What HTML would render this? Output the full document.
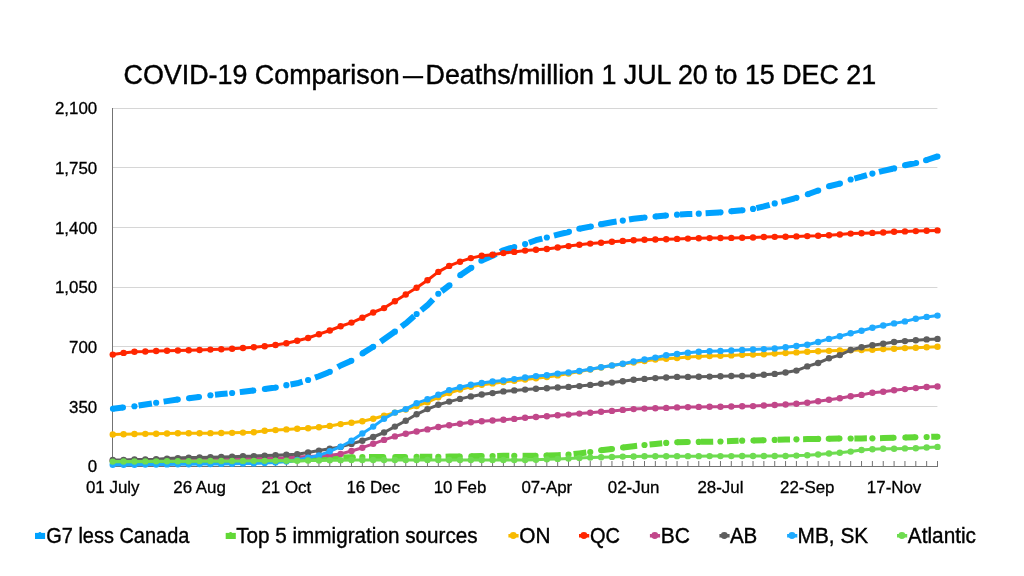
<!DOCTYPE html>
<html lang="en">
<head>
<meta charset="utf-8">
<title>COVID-19 Comparison — Deaths/million 1 JUL 20 to 15 DEC 21</title>
<style>
html,body{margin:0;padding:0;background:#fff;}
body{width:1024px;height:576px;overflow:hidden;position:relative;font-family:"Liberation Sans",sans-serif;}
</style>
</head>
<body>
<svg width="1024" height="576" viewBox="0 0 1024 576" style="position:absolute;left:0;top:0;will-change:transform;-webkit-font-smoothing:antialiased">
<rect width="1024" height="576" fill="#ffffff"/>
<line x1="112" x2="937.4" y1="406.5" y2="406.5" stroke="#d6d6d6" stroke-width="1"/>
<line x1="112" x2="937.4" y1="346.5" y2="346.5" stroke="#d6d6d6" stroke-width="1"/>
<line x1="112" x2="937.4" y1="287.5" y2="287.5" stroke="#d6d6d6" stroke-width="1"/>
<line x1="112" x2="937.4" y1="227.5" y2="227.5" stroke="#d6d6d6" stroke-width="1"/>
<line x1="112" x2="937.4" y1="167.5" y2="167.5" stroke="#d6d6d6" stroke-width="1"/>
<line x1="112" x2="937.4" y1="108.5" y2="108.5" stroke="#d6d6d6" stroke-width="1"/>
<g stroke="#737373" stroke-width="1">
<line x1="112.5" x2="112.5" y1="108.0" y2="467.0"/>
<line x1="112" x2="938.0" y1="466.5" y2="466.5"/>
<line x1="123.60" x2="123.60" y1="461.0" y2="466.5"/>
<line x1="134.45" x2="134.45" y1="461.0" y2="466.5"/>
<line x1="145.31" x2="145.31" y1="461.0" y2="466.5"/>
<line x1="156.16" x2="156.16" y1="461.0" y2="466.5"/>
<line x1="167.01" x2="167.01" y1="461.0" y2="466.5"/>
<line x1="177.86" x2="177.86" y1="461.0" y2="466.5"/>
<line x1="188.71" x2="188.71" y1="461.0" y2="466.5"/>
<line x1="199.57" x2="199.57" y1="461.0" y2="466.5"/>
<line x1="210.42" x2="210.42" y1="461.0" y2="466.5"/>
<line x1="221.27" x2="221.27" y1="461.0" y2="466.5"/>
<line x1="232.12" x2="232.12" y1="461.0" y2="466.5"/>
<line x1="242.97" x2="242.97" y1="461.0" y2="466.5"/>
<line x1="253.83" x2="253.83" y1="461.0" y2="466.5"/>
<line x1="264.68" x2="264.68" y1="461.0" y2="466.5"/>
<line x1="275.53" x2="275.53" y1="461.0" y2="466.5"/>
<line x1="286.38" x2="286.38" y1="461.0" y2="466.5"/>
<line x1="297.23" x2="297.23" y1="461.0" y2="466.5"/>
<line x1="308.09" x2="308.09" y1="461.0" y2="466.5"/>
<line x1="318.94" x2="318.94" y1="461.0" y2="466.5"/>
<line x1="329.79" x2="329.79" y1="461.0" y2="466.5"/>
<line x1="340.64" x2="340.64" y1="461.0" y2="466.5"/>
<line x1="351.49" x2="351.49" y1="461.0" y2="466.5"/>
<line x1="362.35" x2="362.35" y1="461.0" y2="466.5"/>
<line x1="373.20" x2="373.20" y1="461.0" y2="466.5"/>
<line x1="384.05" x2="384.05" y1="461.0" y2="466.5"/>
<line x1="394.90" x2="394.90" y1="461.0" y2="466.5"/>
<line x1="405.75" x2="405.75" y1="461.0" y2="466.5"/>
<line x1="416.61" x2="416.61" y1="461.0" y2="466.5"/>
<line x1="427.46" x2="427.46" y1="461.0" y2="466.5"/>
<line x1="438.31" x2="438.31" y1="461.0" y2="466.5"/>
<line x1="449.16" x2="449.16" y1="461.0" y2="466.5"/>
<line x1="460.01" x2="460.01" y1="461.0" y2="466.5"/>
<line x1="470.87" x2="470.87" y1="461.0" y2="466.5"/>
<line x1="481.72" x2="481.72" y1="461.0" y2="466.5"/>
<line x1="492.57" x2="492.57" y1="461.0" y2="466.5"/>
<line x1="503.42" x2="503.42" y1="461.0" y2="466.5"/>
<line x1="514.27" x2="514.27" y1="461.0" y2="466.5"/>
<line x1="525.12" x2="525.12" y1="461.0" y2="466.5"/>
<line x1="535.98" x2="535.98" y1="461.0" y2="466.5"/>
<line x1="546.83" x2="546.83" y1="461.0" y2="466.5"/>
<line x1="557.68" x2="557.68" y1="461.0" y2="466.5"/>
<line x1="568.53" x2="568.53" y1="461.0" y2="466.5"/>
<line x1="579.38" x2="579.38" y1="461.0" y2="466.5"/>
<line x1="590.24" x2="590.24" y1="461.0" y2="466.5"/>
<line x1="601.09" x2="601.09" y1="461.0" y2="466.5"/>
<line x1="611.94" x2="611.94" y1="461.0" y2="466.5"/>
<line x1="622.79" x2="622.79" y1="461.0" y2="466.5"/>
<line x1="633.64" x2="633.64" y1="461.0" y2="466.5"/>
<line x1="644.50" x2="644.50" y1="461.0" y2="466.5"/>
<line x1="655.35" x2="655.35" y1="461.0" y2="466.5"/>
<line x1="666.20" x2="666.20" y1="461.0" y2="466.5"/>
<line x1="677.05" x2="677.05" y1="461.0" y2="466.5"/>
<line x1="687.90" x2="687.90" y1="461.0" y2="466.5"/>
<line x1="698.76" x2="698.76" y1="461.0" y2="466.5"/>
<line x1="709.61" x2="709.61" y1="461.0" y2="466.5"/>
<line x1="720.46" x2="720.46" y1="461.0" y2="466.5"/>
<line x1="731.31" x2="731.31" y1="461.0" y2="466.5"/>
<line x1="742.16" x2="742.16" y1="461.0" y2="466.5"/>
<line x1="753.02" x2="753.02" y1="461.0" y2="466.5"/>
<line x1="763.87" x2="763.87" y1="461.0" y2="466.5"/>
<line x1="774.72" x2="774.72" y1="461.0" y2="466.5"/>
<line x1="785.57" x2="785.57" y1="461.0" y2="466.5"/>
<line x1="796.42" x2="796.42" y1="461.0" y2="466.5"/>
<line x1="807.28" x2="807.28" y1="461.0" y2="466.5"/>
<line x1="818.13" x2="818.13" y1="461.0" y2="466.5"/>
<line x1="828.98" x2="828.98" y1="461.0" y2="466.5"/>
<line x1="839.83" x2="839.83" y1="461.0" y2="466.5"/>
<line x1="850.68" x2="850.68" y1="461.0" y2="466.5"/>
<line x1="861.54" x2="861.54" y1="461.0" y2="466.5"/>
<line x1="872.39" x2="872.39" y1="461.0" y2="466.5"/>
<line x1="883.24" x2="883.24" y1="461.0" y2="466.5"/>
<line x1="894.09" x2="894.09" y1="461.0" y2="466.5"/>
<line x1="904.94" x2="904.94" y1="461.0" y2="466.5"/>
<line x1="915.80" x2="915.80" y1="461.0" y2="466.5"/>
<line x1="926.65" x2="926.65" y1="461.0" y2="466.5"/>
<line x1="937.50" x2="937.50" y1="461.0" y2="466.5"/>
</g>
<g stroke="#00A2FF" fill="#00A2FF" stroke-width="6.0" stroke-linejoin="round" fill-opacity="1">
<polyline points="112.90,408.73 123.00,407.57" fill="none" stroke-linecap="butt"/>
<circle cx="112.90" cy="408.73" r="3.0" stroke="none"/>
<circle cx="123.00" cy="407.57" r="3.0" stroke="none"/>
<polyline points="138.60,405.58 145.31,404.50 151.90,403.44" fill="none" stroke-linecap="butt"/>
<polyline points="163.60,401.62 167.01,401.10 177.80,399.51" fill="none" stroke-linecap="butt"/>
<circle cx="177.80" cy="399.51" r="3.0" stroke="none"/>
<polyline points="189.00,398.17 199.00,397.06" fill="none" stroke-linecap="butt"/>
<circle cx="189.00" cy="398.17" r="3.0" stroke="none"/>
<circle cx="199.00" cy="397.06" r="3.0" stroke="none"/>
<polyline points="215.00,394.76 221.27,394.10 227.60,393.46" fill="none" stroke-linecap="butt"/>
<polyline points="239.80,392.12 242.97,391.75 253.40,390.55" fill="none" stroke-linecap="butt"/>
<circle cx="253.40" cy="390.55" r="3.0" stroke="none"/>
<polyline points="264.80,388.98 275.53,387.50 275.80,387.44" fill="none" stroke-linecap="butt"/>
<circle cx="264.80" cy="388.98" r="3.0" stroke="none"/>
<circle cx="275.80" cy="387.44" r="3.0" stroke="none"/>
<polyline points="290.50,384.48 297.23,383.30 302.50,381.70" fill="none" stroke-linecap="butt"/>
<polyline points="315.00,377.61 318.94,376.25 328.30,372.41" fill="none" stroke-linecap="butt"/>
<polyline points="337.70,367.21 340.64,365.50 351.40,360.84" fill="none" stroke-linecap="butt"/>
<circle cx="351.40" cy="360.84" r="3.0" stroke="none"/>
<polyline points="362.50,353.40 373.20,346.80 373.25,346.76" fill="none" stroke-linecap="butt"/>
<circle cx="362.50" cy="353.40" r="3.0" stroke="none"/>
<circle cx="373.25" cy="346.76" r="3.0" stroke="none"/>
<polyline points="380.60,341.68 384.05,339.30 394.00,332.33" fill="none" stroke-linecap="butt"/>
<polyline points="401.40,326.73 405.75,323.40 414.20,316.08" fill="none" stroke-linecap="butt"/>
<polyline points="421.25,310.23 427.46,305.20 433.00,299.35" fill="none" stroke-linecap="butt"/>
<polyline points="441.60,291.25 449.16,285.50 449.50,285.18" fill="none" stroke-linecap="butt"/>
<circle cx="449.50" cy="285.18" r="3.0" stroke="none"/>
<polyline points="460.20,275.17 470.87,268.00 471.40,267.63" fill="none" stroke-linecap="butt"/>
<circle cx="460.20" cy="275.17" r="3.0" stroke="none"/>
<circle cx="471.40" cy="267.63" r="3.0" stroke="none"/>
<polyline points="481.30,260.79 481.72,260.50 492.57,255.80 496.25,253.93" fill="none" stroke-linecap="butt"/>
<circle cx="481.30" cy="260.79" r="3.0" stroke="none"/>
<polyline points="500.20,251.93 503.42,250.30 514.27,246.90 514.30,246.89" fill="none" stroke-linecap="butt"/>
<circle cx="514.30" cy="246.89" r="3.0" stroke="none"/>
<polyline points="529.00,242.71 535.98,240.20 542.30,238.63" fill="none" stroke-linecap="butt"/>
<polyline points="554.00,235.65 557.68,234.70 568.53,232.00 569.00,231.86" fill="none" stroke-linecap="butt"/>
<circle cx="569.00" cy="231.86" r="3.0" stroke="none"/>
<polyline points="579.25,228.79 579.38,228.75 590.24,226.60 590.90,226.45" fill="none" stroke-linecap="butt"/>
<circle cx="579.25" cy="228.79" r="3.0" stroke="none"/>
<circle cx="590.90" cy="226.45" r="3.0" stroke="none"/>
<polyline points="602.50,223.94 611.94,222.20 616.60,221.51" fill="none" stroke-linecap="butt"/>
<polyline points="629.00,219.54 633.64,218.75 643.00,217.67" fill="none" stroke-linecap="butt"/>
<polyline points="655.50,216.39 666.00,215.52" fill="none" stroke-linecap="butt"/>
<circle cx="655.50" cy="216.39" r="3.0" stroke="none"/>
<circle cx="666.00" cy="215.52" r="3.0" stroke="none"/>
<polyline points="680.00,214.54 687.90,214.10 692.30,213.94" fill="none" stroke-linecap="butt"/>
<polyline points="705.60,213.32 709.61,213.10 719.00,212.41" fill="none" stroke-linecap="butt"/>
<polyline points="731.30,211.25 731.31,211.25 742.16,210.30 742.50,210.26" fill="none" stroke-linecap="butt"/>
<circle cx="731.30" cy="211.25" r="3.0" stroke="none"/>
<circle cx="742.50" cy="210.26" r="3.0" stroke="none"/>
<polyline points="756.40,208.12 763.87,206.40 769.70,204.79" fill="none" stroke-linecap="butt"/>
<polyline points="781.40,201.86 785.57,200.90 794.70,198.29" fill="none" stroke-linecap="butt"/>
<polyline points="807.80,194.21 818.13,190.50 818.25,190.45" fill="none" stroke-linecap="butt"/>
<circle cx="807.80" cy="194.21" r="3.0" stroke="none"/>
<circle cx="818.25" cy="190.45" r="3.0" stroke="none"/>
<polyline points="829.00,186.25 839.83,183.60 840.00,183.54" fill="none" stroke-linecap="butt"/>
<circle cx="829.00" cy="186.25" r="3.0" stroke="none"/>
<circle cx="840.00" cy="183.54" r="3.0" stroke="none"/>
<polyline points="854.40,178.54 861.54,176.70 866.90,175.17" fill="none" stroke-linecap="butt"/>
<polyline points="879.00,171.95 883.24,170.90 892.60,168.74" fill="none" stroke-linecap="butt"/>
<polyline points="905.00,165.29 915.80,163.00 916.20,162.89" fill="none" stroke-linecap="butt"/>
<circle cx="905.00" cy="165.29" r="3.0" stroke="none"/>
<circle cx="916.20" cy="162.89" r="3.0" stroke="none"/>
<polyline points="926.00,160.18 926.65,160.00 937.50,156.40" fill="none" stroke-linecap="butt"/>
<circle cx="926.00" cy="160.18" r="3.0" stroke="none"/>
<circle cx="937.50" cy="156.40" r="3.0" stroke="none"/>
<circle cx="134.45" cy="406.25" r="3.1" stroke="none"/>
<circle cx="156.16" cy="402.75" r="3.1" stroke="none"/>
<circle cx="210.42" cy="395.25" r="3.1" stroke="none"/>
<circle cx="232.12" cy="393.00" r="3.1" stroke="none"/>
<circle cx="286.38" cy="385.20" r="3.1" stroke="none"/>
<circle cx="308.09" cy="380.00" r="3.1" stroke="none"/>
<circle cx="329.79" cy="371.80" r="3.1" stroke="none"/>
<circle cx="394.90" cy="331.70" r="3.1" stroke="none"/>
<circle cx="416.61" cy="314.00" r="3.1" stroke="none"/>
<circle cx="438.31" cy="293.75" r="3.1" stroke="none"/>
<circle cx="525.12" cy="244.10" r="3.1" stroke="none"/>
<circle cx="546.83" cy="237.50" r="3.1" stroke="none"/>
<circle cx="601.09" cy="224.20" r="3.1" stroke="none"/>
<circle cx="622.79" cy="220.60" r="3.1" stroke="none"/>
<circle cx="644.50" cy="217.50" r="3.1" stroke="none"/>
<circle cx="677.05" cy="214.70" r="3.1" stroke="none"/>
<circle cx="698.76" cy="213.70" r="3.1" stroke="none"/>
<circle cx="720.46" cy="212.30" r="3.1" stroke="none"/>
<circle cx="753.02" cy="208.90" r="3.1" stroke="none"/>
<circle cx="774.72" cy="203.40" r="3.1" stroke="none"/>
<circle cx="796.42" cy="197.80" r="3.1" stroke="none"/>
<circle cx="850.68" cy="179.50" r="3.1" stroke="none"/>
<circle cx="872.39" cy="173.60" r="3.1" stroke="none"/>
<circle cx="894.09" cy="168.40" r="3.1" stroke="none"/>
</g>
<g stroke="#61D836" fill="#61D836" stroke-width="6.0" stroke-linejoin="round" fill-opacity="1">
<polyline points="112.75,463.00 123.60,462.81 134.45,462.62 145.31,462.44 156.16,462.25 167.01,462.06 177.86,461.88 188.71,461.69 199.57,461.50 210.42,461.31 221.27,461.12 232.12,460.94 242.97,460.75 253.83,460.56 264.68,460.38 275.53,460.19 286.38,460.00 297.23,459.50 308.09,459.00 318.94,458.50 329.79,458.00 340.00,457.53" fill="none" stroke-linecap="butt"/>
<polyline points="343.30,457.43 351.49,457.20 352.80,457.19" fill="none" stroke-linecap="butt"/>
<circle cx="352.80" cy="457.19" r="3.0" stroke="none"/>
<polyline points="369.00,457.07 373.20,457.06 383.25,457.02" fill="none" stroke-linecap="butt"/>
<circle cx="383.25" cy="457.02" r="3.0" stroke="none"/>
<polyline points="395.20,456.97 405.10,456.93" fill="none" stroke-linecap="butt"/>
<circle cx="395.20" cy="456.97" r="3.0" stroke="none"/>
<circle cx="405.10" cy="456.93" r="3.0" stroke="none"/>
<polyline points="419.80,456.87 427.46,456.84 432.30,456.82" fill="none" stroke-linecap="butt"/>
<polyline points="445.60,456.67 449.16,456.60 459.80,456.44" fill="none" stroke-linecap="butt"/>
<circle cx="459.80" cy="456.44" r="3.0" stroke="none"/>
<polyline points="471.30,456.26 481.70,456.10" fill="none" stroke-linecap="butt"/>
<circle cx="471.30" cy="456.26" r="3.0" stroke="none"/>
<circle cx="481.70" cy="456.10" r="3.0" stroke="none"/>
<polyline points="497.20,455.91 503.42,455.80 509.30,455.80" fill="none" stroke-linecap="butt"/>
<polyline points="522.60,455.80 525.12,455.80 535.60,455.80" fill="none" stroke-linecap="butt"/>
<circle cx="535.60" cy="455.80" r="3.0" stroke="none"/>
<polyline points="546.40,455.51 546.83,455.50 557.68,455.20 560.80,455.06" fill="none" stroke-linecap="butt"/>
<circle cx="546.40" cy="455.51" r="3.0" stroke="none"/>
<polyline points="573.60,454.09 579.38,453.40 586.30,452.51" fill="none" stroke-linecap="butt"/>
<polyline points="601.10,450.30 611.94,449.00 612.00,448.99" fill="none" stroke-linecap="butt"/>
<circle cx="601.10" cy="450.30" r="3.0" stroke="none"/>
<circle cx="612.00" cy="448.99" r="3.0" stroke="none"/>
<polyline points="623.00,447.48 633.64,446.20 637.10,445.82" fill="none" stroke-linecap="butt"/>
<circle cx="623.00" cy="447.48" r="3.0" stroke="none"/>
<polyline points="649.60,444.48 655.35,443.90 662.20,443.30" fill="none" stroke-linecap="butt"/>
<polyline points="677.20,442.30 687.80,442.10" fill="none" stroke-linecap="butt"/>
<circle cx="677.20" cy="442.30" r="3.0" stroke="none"/>
<circle cx="687.80" cy="442.10" r="3.0" stroke="none"/>
<polyline points="701.00,441.86 709.61,441.70 713.20,441.63" fill="none" stroke-linecap="butt"/>
<polyline points="727.00,441.26 731.31,441.10 738.60,440.83" fill="none" stroke-linecap="butt"/>
<polyline points="753.40,440.49 763.60,440.30" fill="none" stroke-linecap="butt"/>
<circle cx="753.40" cy="440.49" r="3.0" stroke="none"/>
<circle cx="763.60" cy="440.30" r="3.0" stroke="none"/>
<polyline points="777.70,439.79 785.57,439.50 790.00,439.42" fill="none" stroke-linecap="butt"/>
<polyline points="803.10,439.18 807.28,439.10 817.50,438.96" fill="none" stroke-linecap="butt"/>
<circle cx="817.50" cy="438.96" r="3.0" stroke="none"/>
<polyline points="828.70,438.76 828.98,438.75 839.50,438.60" fill="none" stroke-linecap="butt"/>
<circle cx="828.70" cy="438.76" r="3.0" stroke="none"/>
<circle cx="839.50" cy="438.60" r="3.0" stroke="none"/>
<polyline points="854.40,438.47 861.54,438.40 866.90,438.35" fill="none" stroke-linecap="butt"/>
<polyline points="880.00,438.16 883.24,438.10 893.60,437.83" fill="none" stroke-linecap="butt"/>
<circle cx="893.60" cy="437.83" r="3.0" stroke="none"/>
<polyline points="905.30,437.53 915.40,437.27" fill="none" stroke-linecap="butt"/>
<circle cx="905.30" cy="437.53" r="3.0" stroke="none"/>
<circle cx="915.40" cy="437.27" r="3.0" stroke="none"/>
<polyline points="931.25,436.86 937.50,436.70" fill="none" stroke-linecap="butt"/>
<circle cx="937.50" cy="436.70" r="3.0" stroke="none"/>
<circle cx="362.35" cy="457.10" r="3.1" stroke="none"/>
<circle cx="416.61" cy="456.89" r="3.1" stroke="none"/>
<circle cx="438.31" cy="456.80" r="3.1" stroke="none"/>
<circle cx="492.57" cy="456.00" r="3.1" stroke="none"/>
<circle cx="514.27" cy="455.80" r="3.1" stroke="none"/>
<circle cx="568.53" cy="454.70" r="3.1" stroke="none"/>
<circle cx="590.24" cy="452.00" r="3.1" stroke="none"/>
<circle cx="644.50" cy="445.00" r="3.1" stroke="none"/>
<circle cx="666.20" cy="442.95" r="3.1" stroke="none"/>
<circle cx="698.76" cy="441.90" r="3.1" stroke="none"/>
<circle cx="720.46" cy="441.50" r="3.1" stroke="none"/>
<circle cx="742.16" cy="440.70" r="3.1" stroke="none"/>
<circle cx="774.72" cy="439.90" r="3.1" stroke="none"/>
<circle cx="796.42" cy="439.30" r="3.1" stroke="none"/>
<circle cx="818.13" cy="438.95" r="3.1" stroke="none"/>
<circle cx="850.68" cy="438.50" r="3.1" stroke="none"/>
<circle cx="872.39" cy="438.30" r="3.1" stroke="none"/>
<circle cx="926.65" cy="436.98" r="3.1" stroke="none"/>
</g>
<g stroke="#F8BA00" fill="#F8BA00">
<polyline points="112.75,434.50 123.60,434.30 134.45,434.00 145.31,433.85 156.16,433.70 167.01,433.50 177.86,433.30 188.71,433.25 199.57,433.20 210.42,433.15 221.27,433.00 232.12,432.85 242.97,432.60 253.83,432.20 264.68,430.70 275.53,430.10 286.38,429.40 297.23,428.70 308.09,428.30 318.94,427.20 329.79,425.90 340.64,424.10 351.49,422.70 362.35,421.20 373.20,418.80 384.05,415.70 394.90,412.60 405.75,409.60 416.61,406.10 427.46,402.20 438.31,397.30 449.16,393.00 460.01,389.50 470.87,386.80 481.72,384.80 492.57,383.40 503.42,382.10 514.27,380.80 525.12,379.60 535.98,378.30 546.83,377.10 557.68,375.40 568.53,373.60 579.38,371.60 590.24,369.50 601.09,367.50 611.94,365.60 622.79,364.00 633.64,362.50 644.50,361.00 655.35,359.50 666.20,358.80 677.05,358.00 687.90,357.00 698.76,356.50 709.61,356.10 720.46,355.70 731.31,355.40 742.16,354.80 753.02,354.60 763.87,354.20 774.72,353.60 785.57,353.00 796.42,352.40 807.28,351.70 818.13,351.25 828.98,350.85 839.83,350.40 850.68,350.20 861.54,350.00 872.39,349.70 883.24,349.10 894.09,348.75 904.94,348.10 915.80,347.70 926.65,347.20 937.50,346.70" fill="none" stroke-width="3" stroke-linejoin="round" stroke-linecap="round"/>
<circle cx="112.75" cy="434.50" r="3.2" stroke="none"/>
<circle cx="123.60" cy="434.30" r="3.2" stroke="none"/>
<circle cx="134.45" cy="434.00" r="3.2" stroke="none"/>
<circle cx="145.31" cy="433.85" r="3.2" stroke="none"/>
<circle cx="156.16" cy="433.70" r="3.2" stroke="none"/>
<circle cx="167.01" cy="433.50" r="3.2" stroke="none"/>
<circle cx="177.86" cy="433.30" r="3.2" stroke="none"/>
<circle cx="188.71" cy="433.25" r="3.2" stroke="none"/>
<circle cx="199.57" cy="433.20" r="3.2" stroke="none"/>
<circle cx="210.42" cy="433.15" r="3.2" stroke="none"/>
<circle cx="221.27" cy="433.00" r="3.2" stroke="none"/>
<circle cx="232.12" cy="432.85" r="3.2" stroke="none"/>
<circle cx="242.97" cy="432.60" r="3.2" stroke="none"/>
<circle cx="253.83" cy="432.20" r="3.2" stroke="none"/>
<circle cx="264.68" cy="430.70" r="3.2" stroke="none"/>
<circle cx="275.53" cy="430.10" r="3.2" stroke="none"/>
<circle cx="286.38" cy="429.40" r="3.2" stroke="none"/>
<circle cx="297.23" cy="428.70" r="3.2" stroke="none"/>
<circle cx="308.09" cy="428.30" r="3.2" stroke="none"/>
<circle cx="318.94" cy="427.20" r="3.2" stroke="none"/>
<circle cx="329.79" cy="425.90" r="3.2" stroke="none"/>
<circle cx="340.64" cy="424.10" r="3.2" stroke="none"/>
<circle cx="351.49" cy="422.70" r="3.2" stroke="none"/>
<circle cx="362.35" cy="421.20" r="3.2" stroke="none"/>
<circle cx="373.20" cy="418.80" r="3.2" stroke="none"/>
<circle cx="384.05" cy="415.70" r="3.2" stroke="none"/>
<circle cx="394.90" cy="412.60" r="3.2" stroke="none"/>
<circle cx="405.75" cy="409.60" r="3.2" stroke="none"/>
<circle cx="416.61" cy="406.10" r="3.2" stroke="none"/>
<circle cx="427.46" cy="402.20" r="3.2" stroke="none"/>
<circle cx="438.31" cy="397.30" r="3.2" stroke="none"/>
<circle cx="449.16" cy="393.00" r="3.2" stroke="none"/>
<circle cx="460.01" cy="389.50" r="3.2" stroke="none"/>
<circle cx="470.87" cy="386.80" r="3.2" stroke="none"/>
<circle cx="481.72" cy="384.80" r="3.2" stroke="none"/>
<circle cx="492.57" cy="383.40" r="3.2" stroke="none"/>
<circle cx="503.42" cy="382.10" r="3.2" stroke="none"/>
<circle cx="514.27" cy="380.80" r="3.2" stroke="none"/>
<circle cx="525.12" cy="379.60" r="3.2" stroke="none"/>
<circle cx="535.98" cy="378.30" r="3.2" stroke="none"/>
<circle cx="546.83" cy="377.10" r="3.2" stroke="none"/>
<circle cx="557.68" cy="375.40" r="3.2" stroke="none"/>
<circle cx="568.53" cy="373.60" r="3.2" stroke="none"/>
<circle cx="579.38" cy="371.60" r="3.2" stroke="none"/>
<circle cx="590.24" cy="369.50" r="3.2" stroke="none"/>
<circle cx="601.09" cy="367.50" r="3.2" stroke="none"/>
<circle cx="611.94" cy="365.60" r="3.2" stroke="none"/>
<circle cx="622.79" cy="364.00" r="3.2" stroke="none"/>
<circle cx="633.64" cy="362.50" r="3.2" stroke="none"/>
<circle cx="644.50" cy="361.00" r="3.2" stroke="none"/>
<circle cx="655.35" cy="359.50" r="3.2" stroke="none"/>
<circle cx="666.20" cy="358.80" r="3.2" stroke="none"/>
<circle cx="677.05" cy="358.00" r="3.2" stroke="none"/>
<circle cx="687.90" cy="357.00" r="3.2" stroke="none"/>
<circle cx="698.76" cy="356.50" r="3.2" stroke="none"/>
<circle cx="709.61" cy="356.10" r="3.2" stroke="none"/>
<circle cx="720.46" cy="355.70" r="3.2" stroke="none"/>
<circle cx="731.31" cy="355.40" r="3.2" stroke="none"/>
<circle cx="742.16" cy="354.80" r="3.2" stroke="none"/>
<circle cx="753.02" cy="354.60" r="3.2" stroke="none"/>
<circle cx="763.87" cy="354.20" r="3.2" stroke="none"/>
<circle cx="774.72" cy="353.60" r="3.2" stroke="none"/>
<circle cx="785.57" cy="353.00" r="3.2" stroke="none"/>
<circle cx="796.42" cy="352.40" r="3.2" stroke="none"/>
<circle cx="807.28" cy="351.70" r="3.2" stroke="none"/>
<circle cx="818.13" cy="351.25" r="3.2" stroke="none"/>
<circle cx="828.98" cy="350.85" r="3.2" stroke="none"/>
<circle cx="839.83" cy="350.40" r="3.2" stroke="none"/>
<circle cx="850.68" cy="350.20" r="3.2" stroke="none"/>
<circle cx="861.54" cy="350.00" r="3.2" stroke="none"/>
<circle cx="872.39" cy="349.70" r="3.2" stroke="none"/>
<circle cx="883.24" cy="349.10" r="3.2" stroke="none"/>
<circle cx="894.09" cy="348.75" r="3.2" stroke="none"/>
<circle cx="904.94" cy="348.10" r="3.2" stroke="none"/>
<circle cx="915.80" cy="347.70" r="3.2" stroke="none"/>
<circle cx="926.65" cy="347.20" r="3.2" stroke="none"/>
<circle cx="937.50" cy="346.70" r="3.2" stroke="none"/>
</g>
<g stroke="#FF2600" fill="#FF2600">
<polyline points="112.75,354.60 123.60,352.90 134.45,351.75 145.31,351.50 156.16,351.00 167.01,350.75 177.86,350.50 188.71,350.25 199.57,350.00 210.42,349.60 221.27,349.25 232.12,348.70 242.97,348.00 253.83,347.25 264.68,346.25 275.53,345.00 286.38,343.25 297.23,340.80 308.09,338.00 318.94,334.20 329.79,330.50 340.64,326.25 351.49,322.60 362.35,317.70 373.20,312.50 384.05,308.10 394.90,301.30 405.75,294.50 416.61,287.80 427.46,280.30 438.31,271.90 449.16,265.90 460.01,261.70 470.87,258.10 481.72,255.80 492.57,254.70 503.42,253.10 514.27,251.90 525.12,250.60 535.98,249.80 546.83,249.00 557.68,247.50 568.53,246.10 579.38,244.80 590.24,243.60 601.09,242.80 611.94,241.70 622.79,240.90 633.64,240.30 644.50,239.80 655.35,239.50 666.20,239.20 677.05,238.90 687.90,238.60 698.76,238.30 709.61,238.10 720.46,238.00 731.31,237.90 742.16,237.80 753.02,237.50 763.87,237.00 774.72,236.85 785.57,236.70 796.42,236.40 807.28,236.10 818.13,235.80 828.98,235.20 839.83,234.50 850.68,233.60 861.54,233.20 872.39,232.90 883.24,232.50 894.09,231.80 904.94,231.40 915.80,231.10 926.65,230.70 937.50,230.40" fill="none" stroke-width="3" stroke-linejoin="round" stroke-linecap="round"/>
<circle cx="112.75" cy="354.60" r="3.2" stroke="none"/>
<circle cx="123.60" cy="352.90" r="3.2" stroke="none"/>
<circle cx="134.45" cy="351.75" r="3.2" stroke="none"/>
<circle cx="145.31" cy="351.50" r="3.2" stroke="none"/>
<circle cx="156.16" cy="351.00" r="3.2" stroke="none"/>
<circle cx="167.01" cy="350.75" r="3.2" stroke="none"/>
<circle cx="177.86" cy="350.50" r="3.2" stroke="none"/>
<circle cx="188.71" cy="350.25" r="3.2" stroke="none"/>
<circle cx="199.57" cy="350.00" r="3.2" stroke="none"/>
<circle cx="210.42" cy="349.60" r="3.2" stroke="none"/>
<circle cx="221.27" cy="349.25" r="3.2" stroke="none"/>
<circle cx="232.12" cy="348.70" r="3.2" stroke="none"/>
<circle cx="242.97" cy="348.00" r="3.2" stroke="none"/>
<circle cx="253.83" cy="347.25" r="3.2" stroke="none"/>
<circle cx="264.68" cy="346.25" r="3.2" stroke="none"/>
<circle cx="275.53" cy="345.00" r="3.2" stroke="none"/>
<circle cx="286.38" cy="343.25" r="3.2" stroke="none"/>
<circle cx="297.23" cy="340.80" r="3.2" stroke="none"/>
<circle cx="308.09" cy="338.00" r="3.2" stroke="none"/>
<circle cx="318.94" cy="334.20" r="3.2" stroke="none"/>
<circle cx="329.79" cy="330.50" r="3.2" stroke="none"/>
<circle cx="340.64" cy="326.25" r="3.2" stroke="none"/>
<circle cx="351.49" cy="322.60" r="3.2" stroke="none"/>
<circle cx="362.35" cy="317.70" r="3.2" stroke="none"/>
<circle cx="373.20" cy="312.50" r="3.2" stroke="none"/>
<circle cx="384.05" cy="308.10" r="3.2" stroke="none"/>
<circle cx="394.90" cy="301.30" r="3.2" stroke="none"/>
<circle cx="405.75" cy="294.50" r="3.2" stroke="none"/>
<circle cx="416.61" cy="287.80" r="3.2" stroke="none"/>
<circle cx="427.46" cy="280.30" r="3.2" stroke="none"/>
<circle cx="438.31" cy="271.90" r="3.2" stroke="none"/>
<circle cx="449.16" cy="265.90" r="3.2" stroke="none"/>
<circle cx="460.01" cy="261.70" r="3.2" stroke="none"/>
<circle cx="470.87" cy="258.10" r="3.2" stroke="none"/>
<circle cx="481.72" cy="255.80" r="3.2" stroke="none"/>
<circle cx="492.57" cy="254.70" r="3.2" stroke="none"/>
<circle cx="503.42" cy="253.10" r="3.2" stroke="none"/>
<circle cx="514.27" cy="251.90" r="3.2" stroke="none"/>
<circle cx="525.12" cy="250.60" r="3.2" stroke="none"/>
<circle cx="535.98" cy="249.80" r="3.2" stroke="none"/>
<circle cx="546.83" cy="249.00" r="3.2" stroke="none"/>
<circle cx="557.68" cy="247.50" r="3.2" stroke="none"/>
<circle cx="568.53" cy="246.10" r="3.2" stroke="none"/>
<circle cx="579.38" cy="244.80" r="3.2" stroke="none"/>
<circle cx="590.24" cy="243.60" r="3.2" stroke="none"/>
<circle cx="601.09" cy="242.80" r="3.2" stroke="none"/>
<circle cx="611.94" cy="241.70" r="3.2" stroke="none"/>
<circle cx="622.79" cy="240.90" r="3.2" stroke="none"/>
<circle cx="633.64" cy="240.30" r="3.2" stroke="none"/>
<circle cx="644.50" cy="239.80" r="3.2" stroke="none"/>
<circle cx="655.35" cy="239.50" r="3.2" stroke="none"/>
<circle cx="666.20" cy="239.20" r="3.2" stroke="none"/>
<circle cx="677.05" cy="238.90" r="3.2" stroke="none"/>
<circle cx="687.90" cy="238.60" r="3.2" stroke="none"/>
<circle cx="698.76" cy="238.30" r="3.2" stroke="none"/>
<circle cx="709.61" cy="238.10" r="3.2" stroke="none"/>
<circle cx="720.46" cy="238.00" r="3.2" stroke="none"/>
<circle cx="731.31" cy="237.90" r="3.2" stroke="none"/>
<circle cx="742.16" cy="237.80" r="3.2" stroke="none"/>
<circle cx="753.02" cy="237.50" r="3.2" stroke="none"/>
<circle cx="763.87" cy="237.00" r="3.2" stroke="none"/>
<circle cx="774.72" cy="236.85" r="3.2" stroke="none"/>
<circle cx="785.57" cy="236.70" r="3.2" stroke="none"/>
<circle cx="796.42" cy="236.40" r="3.2" stroke="none"/>
<circle cx="807.28" cy="236.10" r="3.2" stroke="none"/>
<circle cx="818.13" cy="235.80" r="3.2" stroke="none"/>
<circle cx="828.98" cy="235.20" r="3.2" stroke="none"/>
<circle cx="839.83" cy="234.50" r="3.2" stroke="none"/>
<circle cx="850.68" cy="233.60" r="3.2" stroke="none"/>
<circle cx="861.54" cy="233.20" r="3.2" stroke="none"/>
<circle cx="872.39" cy="232.90" r="3.2" stroke="none"/>
<circle cx="883.24" cy="232.50" r="3.2" stroke="none"/>
<circle cx="894.09" cy="231.80" r="3.2" stroke="none"/>
<circle cx="904.94" cy="231.40" r="3.2" stroke="none"/>
<circle cx="915.80" cy="231.10" r="3.2" stroke="none"/>
<circle cx="926.65" cy="230.70" r="3.2" stroke="none"/>
<circle cx="937.50" cy="230.40" r="3.2" stroke="none"/>
</g>
<g stroke="#C1478A" fill="#C1478A">
<polyline points="112.75,460.70 123.60,460.60 134.45,460.40 145.31,460.20 156.16,460.00 167.01,459.70 177.86,459.40 188.71,459.00 199.57,458.75 210.42,458.70 221.27,458.60 232.12,458.50 242.97,458.40 253.83,458.25 264.68,458.10 275.53,457.90 286.38,457.70 297.23,457.10 308.09,456.60 318.94,456.00 329.79,455.30 340.64,453.90 351.49,451.00 362.35,447.70 373.20,443.80 384.05,439.90 394.90,436.40 405.75,433.70 416.61,431.50 427.46,429.40 438.31,427.00 449.16,425.30 460.01,423.70 470.87,422.30 481.72,421.20 492.57,420.50 503.42,419.70 514.27,418.90 525.12,417.70 535.98,417.00 546.83,416.20 557.68,415.20 568.53,414.60 579.38,413.60 590.24,412.70 601.09,411.70 611.94,410.90 622.79,409.90 633.64,409.10 644.50,408.60 655.35,408.30 666.20,407.90 677.05,407.40 687.90,407.10 698.76,406.90 709.61,406.80 720.46,406.70 731.31,406.50 742.16,406.30 753.02,406.10 763.87,405.50 774.72,405.00 785.57,404.50 796.42,403.70 807.28,402.80 818.13,401.30 828.98,399.80 839.83,398.20 850.68,396.20 861.54,394.90 872.39,392.80 883.24,391.70 894.09,390.30 904.94,389.10 915.80,388.10 926.65,387.00 937.50,386.50" fill="none" stroke-width="3" stroke-linejoin="round" stroke-linecap="round"/>
<circle cx="112.75" cy="460.70" r="3.2" stroke="none"/>
<circle cx="123.60" cy="460.60" r="3.2" stroke="none"/>
<circle cx="134.45" cy="460.40" r="3.2" stroke="none"/>
<circle cx="145.31" cy="460.20" r="3.2" stroke="none"/>
<circle cx="156.16" cy="460.00" r="3.2" stroke="none"/>
<circle cx="167.01" cy="459.70" r="3.2" stroke="none"/>
<circle cx="177.86" cy="459.40" r="3.2" stroke="none"/>
<circle cx="188.71" cy="459.00" r="3.2" stroke="none"/>
<circle cx="199.57" cy="458.75" r="3.2" stroke="none"/>
<circle cx="210.42" cy="458.70" r="3.2" stroke="none"/>
<circle cx="221.27" cy="458.60" r="3.2" stroke="none"/>
<circle cx="232.12" cy="458.50" r="3.2" stroke="none"/>
<circle cx="242.97" cy="458.40" r="3.2" stroke="none"/>
<circle cx="253.83" cy="458.25" r="3.2" stroke="none"/>
<circle cx="264.68" cy="458.10" r="3.2" stroke="none"/>
<circle cx="275.53" cy="457.90" r="3.2" stroke="none"/>
<circle cx="286.38" cy="457.70" r="3.2" stroke="none"/>
<circle cx="297.23" cy="457.10" r="3.2" stroke="none"/>
<circle cx="308.09" cy="456.60" r="3.2" stroke="none"/>
<circle cx="318.94" cy="456.00" r="3.2" stroke="none"/>
<circle cx="329.79" cy="455.30" r="3.2" stroke="none"/>
<circle cx="340.64" cy="453.90" r="3.2" stroke="none"/>
<circle cx="351.49" cy="451.00" r="3.2" stroke="none"/>
<circle cx="362.35" cy="447.70" r="3.2" stroke="none"/>
<circle cx="373.20" cy="443.80" r="3.2" stroke="none"/>
<circle cx="384.05" cy="439.90" r="3.2" stroke="none"/>
<circle cx="394.90" cy="436.40" r="3.2" stroke="none"/>
<circle cx="405.75" cy="433.70" r="3.2" stroke="none"/>
<circle cx="416.61" cy="431.50" r="3.2" stroke="none"/>
<circle cx="427.46" cy="429.40" r="3.2" stroke="none"/>
<circle cx="438.31" cy="427.00" r="3.2" stroke="none"/>
<circle cx="449.16" cy="425.30" r="3.2" stroke="none"/>
<circle cx="460.01" cy="423.70" r="3.2" stroke="none"/>
<circle cx="470.87" cy="422.30" r="3.2" stroke="none"/>
<circle cx="481.72" cy="421.20" r="3.2" stroke="none"/>
<circle cx="492.57" cy="420.50" r="3.2" stroke="none"/>
<circle cx="503.42" cy="419.70" r="3.2" stroke="none"/>
<circle cx="514.27" cy="418.90" r="3.2" stroke="none"/>
<circle cx="525.12" cy="417.70" r="3.2" stroke="none"/>
<circle cx="535.98" cy="417.00" r="3.2" stroke="none"/>
<circle cx="546.83" cy="416.20" r="3.2" stroke="none"/>
<circle cx="557.68" cy="415.20" r="3.2" stroke="none"/>
<circle cx="568.53" cy="414.60" r="3.2" stroke="none"/>
<circle cx="579.38" cy="413.60" r="3.2" stroke="none"/>
<circle cx="590.24" cy="412.70" r="3.2" stroke="none"/>
<circle cx="601.09" cy="411.70" r="3.2" stroke="none"/>
<circle cx="611.94" cy="410.90" r="3.2" stroke="none"/>
<circle cx="622.79" cy="409.90" r="3.2" stroke="none"/>
<circle cx="633.64" cy="409.10" r="3.2" stroke="none"/>
<circle cx="644.50" cy="408.60" r="3.2" stroke="none"/>
<circle cx="655.35" cy="408.30" r="3.2" stroke="none"/>
<circle cx="666.20" cy="407.90" r="3.2" stroke="none"/>
<circle cx="677.05" cy="407.40" r="3.2" stroke="none"/>
<circle cx="687.90" cy="407.10" r="3.2" stroke="none"/>
<circle cx="698.76" cy="406.90" r="3.2" stroke="none"/>
<circle cx="709.61" cy="406.80" r="3.2" stroke="none"/>
<circle cx="720.46" cy="406.70" r="3.2" stroke="none"/>
<circle cx="731.31" cy="406.50" r="3.2" stroke="none"/>
<circle cx="742.16" cy="406.30" r="3.2" stroke="none"/>
<circle cx="753.02" cy="406.10" r="3.2" stroke="none"/>
<circle cx="763.87" cy="405.50" r="3.2" stroke="none"/>
<circle cx="774.72" cy="405.00" r="3.2" stroke="none"/>
<circle cx="785.57" cy="404.50" r="3.2" stroke="none"/>
<circle cx="796.42" cy="403.70" r="3.2" stroke="none"/>
<circle cx="807.28" cy="402.80" r="3.2" stroke="none"/>
<circle cx="818.13" cy="401.30" r="3.2" stroke="none"/>
<circle cx="828.98" cy="399.80" r="3.2" stroke="none"/>
<circle cx="839.83" cy="398.20" r="3.2" stroke="none"/>
<circle cx="850.68" cy="396.20" r="3.2" stroke="none"/>
<circle cx="861.54" cy="394.90" r="3.2" stroke="none"/>
<circle cx="872.39" cy="392.80" r="3.2" stroke="none"/>
<circle cx="883.24" cy="391.70" r="3.2" stroke="none"/>
<circle cx="894.09" cy="390.30" r="3.2" stroke="none"/>
<circle cx="904.94" cy="389.10" r="3.2" stroke="none"/>
<circle cx="915.80" cy="388.10" r="3.2" stroke="none"/>
<circle cx="926.65" cy="387.00" r="3.2" stroke="none"/>
<circle cx="937.50" cy="386.50" r="3.2" stroke="none"/>
</g>
<g stroke="#5E5E5E" fill="#5E5E5E">
<polyline points="112.75,459.90 123.60,460.00 134.45,459.40 145.31,459.40 156.16,459.20 167.01,458.60 177.86,458.10 188.71,457.60 199.57,457.40 210.42,457.20 221.27,456.90 232.12,456.70 242.97,456.30 253.83,456.10 264.68,455.60 275.53,455.20 286.38,454.80 297.23,454.20 308.09,452.40 318.94,450.60 329.79,448.70 340.64,446.90 351.49,443.90 362.35,440.70 373.20,437.00 384.05,432.50 394.90,426.60 405.75,420.80 416.61,414.30 427.46,409.10 438.31,404.80 449.16,401.60 460.01,398.90 470.87,396.40 481.72,394.50 492.57,393.10 503.42,391.40 514.27,390.40 525.12,389.60 535.98,388.80 546.83,388.20 557.68,387.50 568.53,386.90 579.38,386.10 590.24,384.90 601.09,383.75 611.94,382.60 622.79,381.20 633.64,379.80 644.50,378.90 655.35,378.10 666.20,377.50 677.05,376.90 687.90,376.90 698.76,376.80 709.61,376.60 720.46,376.25 731.31,376.05 742.16,376.00 753.02,375.80 763.87,374.70 774.72,373.90 785.57,372.50 796.42,370.60 807.28,366.40 818.13,363.00 828.98,358.30 839.83,355.10 850.68,350.00 861.54,347.30 872.39,345.30 883.24,343.75 894.09,341.90 904.94,341.10 915.80,340.20 926.65,339.40 937.50,338.90" fill="none" stroke-width="3" stroke-linejoin="round" stroke-linecap="round"/>
<circle cx="112.75" cy="459.90" r="3.2" stroke="none"/>
<circle cx="123.60" cy="460.00" r="3.2" stroke="none"/>
<circle cx="134.45" cy="459.40" r="3.2" stroke="none"/>
<circle cx="145.31" cy="459.40" r="3.2" stroke="none"/>
<circle cx="156.16" cy="459.20" r="3.2" stroke="none"/>
<circle cx="167.01" cy="458.60" r="3.2" stroke="none"/>
<circle cx="177.86" cy="458.10" r="3.2" stroke="none"/>
<circle cx="188.71" cy="457.60" r="3.2" stroke="none"/>
<circle cx="199.57" cy="457.40" r="3.2" stroke="none"/>
<circle cx="210.42" cy="457.20" r="3.2" stroke="none"/>
<circle cx="221.27" cy="456.90" r="3.2" stroke="none"/>
<circle cx="232.12" cy="456.70" r="3.2" stroke="none"/>
<circle cx="242.97" cy="456.30" r="3.2" stroke="none"/>
<circle cx="253.83" cy="456.10" r="3.2" stroke="none"/>
<circle cx="264.68" cy="455.60" r="3.2" stroke="none"/>
<circle cx="275.53" cy="455.20" r="3.2" stroke="none"/>
<circle cx="286.38" cy="454.80" r="3.2" stroke="none"/>
<circle cx="297.23" cy="454.20" r="3.2" stroke="none"/>
<circle cx="308.09" cy="452.40" r="3.2" stroke="none"/>
<circle cx="318.94" cy="450.60" r="3.2" stroke="none"/>
<circle cx="329.79" cy="448.70" r="3.2" stroke="none"/>
<circle cx="340.64" cy="446.90" r="3.2" stroke="none"/>
<circle cx="351.49" cy="443.90" r="3.2" stroke="none"/>
<circle cx="362.35" cy="440.70" r="3.2" stroke="none"/>
<circle cx="373.20" cy="437.00" r="3.2" stroke="none"/>
<circle cx="384.05" cy="432.50" r="3.2" stroke="none"/>
<circle cx="394.90" cy="426.60" r="3.2" stroke="none"/>
<circle cx="405.75" cy="420.80" r="3.2" stroke="none"/>
<circle cx="416.61" cy="414.30" r="3.2" stroke="none"/>
<circle cx="427.46" cy="409.10" r="3.2" stroke="none"/>
<circle cx="438.31" cy="404.80" r="3.2" stroke="none"/>
<circle cx="449.16" cy="401.60" r="3.2" stroke="none"/>
<circle cx="460.01" cy="398.90" r="3.2" stroke="none"/>
<circle cx="470.87" cy="396.40" r="3.2" stroke="none"/>
<circle cx="481.72" cy="394.50" r="3.2" stroke="none"/>
<circle cx="492.57" cy="393.10" r="3.2" stroke="none"/>
<circle cx="503.42" cy="391.40" r="3.2" stroke="none"/>
<circle cx="514.27" cy="390.40" r="3.2" stroke="none"/>
<circle cx="525.12" cy="389.60" r="3.2" stroke="none"/>
<circle cx="535.98" cy="388.80" r="3.2" stroke="none"/>
<circle cx="546.83" cy="388.20" r="3.2" stroke="none"/>
<circle cx="557.68" cy="387.50" r="3.2" stroke="none"/>
<circle cx="568.53" cy="386.90" r="3.2" stroke="none"/>
<circle cx="579.38" cy="386.10" r="3.2" stroke="none"/>
<circle cx="590.24" cy="384.90" r="3.2" stroke="none"/>
<circle cx="601.09" cy="383.75" r="3.2" stroke="none"/>
<circle cx="611.94" cy="382.60" r="3.2" stroke="none"/>
<circle cx="622.79" cy="381.20" r="3.2" stroke="none"/>
<circle cx="633.64" cy="379.80" r="3.2" stroke="none"/>
<circle cx="644.50" cy="378.90" r="3.2" stroke="none"/>
<circle cx="655.35" cy="378.10" r="3.2" stroke="none"/>
<circle cx="666.20" cy="377.50" r="3.2" stroke="none"/>
<circle cx="677.05" cy="376.90" r="3.2" stroke="none"/>
<circle cx="687.90" cy="376.90" r="3.2" stroke="none"/>
<circle cx="698.76" cy="376.80" r="3.2" stroke="none"/>
<circle cx="709.61" cy="376.60" r="3.2" stroke="none"/>
<circle cx="720.46" cy="376.25" r="3.2" stroke="none"/>
<circle cx="731.31" cy="376.05" r="3.2" stroke="none"/>
<circle cx="742.16" cy="376.00" r="3.2" stroke="none"/>
<circle cx="753.02" cy="375.80" r="3.2" stroke="none"/>
<circle cx="763.87" cy="374.70" r="3.2" stroke="none"/>
<circle cx="774.72" cy="373.90" r="3.2" stroke="none"/>
<circle cx="785.57" cy="372.50" r="3.2" stroke="none"/>
<circle cx="796.42" cy="370.60" r="3.2" stroke="none"/>
<circle cx="807.28" cy="366.40" r="3.2" stroke="none"/>
<circle cx="818.13" cy="363.00" r="3.2" stroke="none"/>
<circle cx="828.98" cy="358.30" r="3.2" stroke="none"/>
<circle cx="839.83" cy="355.10" r="3.2" stroke="none"/>
<circle cx="850.68" cy="350.00" r="3.2" stroke="none"/>
<circle cx="861.54" cy="347.30" r="3.2" stroke="none"/>
<circle cx="872.39" cy="345.30" r="3.2" stroke="none"/>
<circle cx="883.24" cy="343.75" r="3.2" stroke="none"/>
<circle cx="894.09" cy="341.90" r="3.2" stroke="none"/>
<circle cx="904.94" cy="341.10" r="3.2" stroke="none"/>
<circle cx="915.80" cy="340.20" r="3.2" stroke="none"/>
<circle cx="926.65" cy="339.40" r="3.2" stroke="none"/>
<circle cx="937.50" cy="338.90" r="3.2" stroke="none"/>
</g>
<g stroke="#1EAAFF" fill="#1EAAFF">
<polyline points="112.75,464.80 123.60,464.70 134.45,464.70 145.31,464.60 156.16,464.50 167.01,464.40 177.86,464.30 188.71,464.20 199.57,464.10 210.42,464.00 221.27,463.90 232.12,463.75 242.97,463.60 253.83,463.40 264.68,463.10 275.53,462.60 286.38,461.60 297.23,460.00 308.09,457.70 318.94,455.40 329.79,451.30 340.64,446.70 351.49,440.80 362.35,433.50 373.20,426.60 384.05,418.80 394.90,412.60 405.75,409.10 416.61,403.20 427.46,399.30 438.31,394.80 449.16,390.10 460.01,387.20 470.87,384.80 481.72,383.05 492.57,381.40 503.42,380.40 514.27,379.10 525.12,377.50 535.98,376.10 546.83,375.20 557.68,373.60 568.53,372.40 579.38,370.90 590.24,369.30 601.09,367.30 611.94,365.40 622.79,363.80 633.64,361.50 644.50,359.50 655.35,357.60 666.20,355.30 677.05,353.95 687.90,352.80 698.76,351.80 709.61,351.25 720.46,350.90 731.31,350.50 742.16,349.90 753.02,349.50 763.87,349.10 774.72,348.50 785.57,347.30 796.42,346.00 807.28,344.70 818.13,342.00 828.98,338.90 839.83,336.20 850.68,333.20 861.54,330.75 872.39,327.80 883.24,325.50 894.09,323.40 904.94,321.40 915.80,318.75 926.65,316.90 937.50,315.60" fill="none" stroke-width="3" stroke-linejoin="round" stroke-linecap="round"/>
<circle cx="112.75" cy="464.80" r="3.2" stroke="none"/>
<circle cx="123.60" cy="464.70" r="3.2" stroke="none"/>
<circle cx="134.45" cy="464.70" r="3.2" stroke="none"/>
<circle cx="145.31" cy="464.60" r="3.2" stroke="none"/>
<circle cx="156.16" cy="464.50" r="3.2" stroke="none"/>
<circle cx="167.01" cy="464.40" r="3.2" stroke="none"/>
<circle cx="177.86" cy="464.30" r="3.2" stroke="none"/>
<circle cx="188.71" cy="464.20" r="3.2" stroke="none"/>
<circle cx="199.57" cy="464.10" r="3.2" stroke="none"/>
<circle cx="210.42" cy="464.00" r="3.2" stroke="none"/>
<circle cx="221.27" cy="463.90" r="3.2" stroke="none"/>
<circle cx="232.12" cy="463.75" r="3.2" stroke="none"/>
<circle cx="242.97" cy="463.60" r="3.2" stroke="none"/>
<circle cx="253.83" cy="463.40" r="3.2" stroke="none"/>
<circle cx="264.68" cy="463.10" r="3.2" stroke="none"/>
<circle cx="275.53" cy="462.60" r="3.2" stroke="none"/>
<circle cx="286.38" cy="461.60" r="3.2" stroke="none"/>
<circle cx="297.23" cy="460.00" r="3.2" stroke="none"/>
<circle cx="308.09" cy="457.70" r="3.2" stroke="none"/>
<circle cx="318.94" cy="455.40" r="3.2" stroke="none"/>
<circle cx="329.79" cy="451.30" r="3.2" stroke="none"/>
<circle cx="340.64" cy="446.70" r="3.2" stroke="none"/>
<circle cx="351.49" cy="440.80" r="3.2" stroke="none"/>
<circle cx="362.35" cy="433.50" r="3.2" stroke="none"/>
<circle cx="373.20" cy="426.60" r="3.2" stroke="none"/>
<circle cx="384.05" cy="418.80" r="3.2" stroke="none"/>
<circle cx="394.90" cy="412.60" r="3.2" stroke="none"/>
<circle cx="405.75" cy="409.10" r="3.2" stroke="none"/>
<circle cx="416.61" cy="403.20" r="3.2" stroke="none"/>
<circle cx="427.46" cy="399.30" r="3.2" stroke="none"/>
<circle cx="438.31" cy="394.80" r="3.2" stroke="none"/>
<circle cx="449.16" cy="390.10" r="3.2" stroke="none"/>
<circle cx="460.01" cy="387.20" r="3.2" stroke="none"/>
<circle cx="470.87" cy="384.80" r="3.2" stroke="none"/>
<circle cx="481.72" cy="383.05" r="3.2" stroke="none"/>
<circle cx="492.57" cy="381.40" r="3.2" stroke="none"/>
<circle cx="503.42" cy="380.40" r="3.2" stroke="none"/>
<circle cx="514.27" cy="379.10" r="3.2" stroke="none"/>
<circle cx="525.12" cy="377.50" r="3.2" stroke="none"/>
<circle cx="535.98" cy="376.10" r="3.2" stroke="none"/>
<circle cx="546.83" cy="375.20" r="3.2" stroke="none"/>
<circle cx="557.68" cy="373.60" r="3.2" stroke="none"/>
<circle cx="568.53" cy="372.40" r="3.2" stroke="none"/>
<circle cx="579.38" cy="370.90" r="3.2" stroke="none"/>
<circle cx="590.24" cy="369.30" r="3.2" stroke="none"/>
<circle cx="601.09" cy="367.30" r="3.2" stroke="none"/>
<circle cx="611.94" cy="365.40" r="3.2" stroke="none"/>
<circle cx="622.79" cy="363.80" r="3.2" stroke="none"/>
<circle cx="633.64" cy="361.50" r="3.2" stroke="none"/>
<circle cx="644.50" cy="359.50" r="3.2" stroke="none"/>
<circle cx="655.35" cy="357.60" r="3.2" stroke="none"/>
<circle cx="666.20" cy="355.30" r="3.2" stroke="none"/>
<circle cx="677.05" cy="353.95" r="3.2" stroke="none"/>
<circle cx="687.90" cy="352.80" r="3.2" stroke="none"/>
<circle cx="698.76" cy="351.80" r="3.2" stroke="none"/>
<circle cx="709.61" cy="351.25" r="3.2" stroke="none"/>
<circle cx="720.46" cy="350.90" r="3.2" stroke="none"/>
<circle cx="731.31" cy="350.50" r="3.2" stroke="none"/>
<circle cx="742.16" cy="349.90" r="3.2" stroke="none"/>
<circle cx="753.02" cy="349.50" r="3.2" stroke="none"/>
<circle cx="763.87" cy="349.10" r="3.2" stroke="none"/>
<circle cx="774.72" cy="348.50" r="3.2" stroke="none"/>
<circle cx="785.57" cy="347.30" r="3.2" stroke="none"/>
<circle cx="796.42" cy="346.00" r="3.2" stroke="none"/>
<circle cx="807.28" cy="344.70" r="3.2" stroke="none"/>
<circle cx="818.13" cy="342.00" r="3.2" stroke="none"/>
<circle cx="828.98" cy="338.90" r="3.2" stroke="none"/>
<circle cx="839.83" cy="336.20" r="3.2" stroke="none"/>
<circle cx="850.68" cy="333.20" r="3.2" stroke="none"/>
<circle cx="861.54" cy="330.75" r="3.2" stroke="none"/>
<circle cx="872.39" cy="327.80" r="3.2" stroke="none"/>
<circle cx="883.24" cy="325.50" r="3.2" stroke="none"/>
<circle cx="894.09" cy="323.40" r="3.2" stroke="none"/>
<circle cx="904.94" cy="321.40" r="3.2" stroke="none"/>
<circle cx="915.80" cy="318.75" r="3.2" stroke="none"/>
<circle cx="926.65" cy="316.90" r="3.2" stroke="none"/>
<circle cx="937.50" cy="315.60" r="3.2" stroke="none"/>
</g>
<g stroke="#6EDC50" fill="#6EDC50">
<polyline points="112.75,461.60 123.60,461.54 134.45,461.48 145.31,461.42 156.16,461.36 167.01,461.30 177.86,461.24 188.71,461.18 199.57,461.12 210.42,461.06 221.27,461.00 232.12,460.96 242.97,460.91 253.83,460.87 264.68,460.83 275.53,460.79 286.38,460.74 297.23,460.70 308.09,460.56 318.94,460.42 329.79,460.28 340.64,460.14 351.49,460.00 362.35,460.00 373.20,460.00 384.05,460.00 394.90,460.00 405.75,460.00 416.61,460.00 427.46,460.00 438.31,460.00 449.16,460.00 460.01,460.00 470.87,460.00 481.72,460.00 492.57,460.00 503.42,460.00 514.27,460.00 525.12,460.00 535.98,459.70 546.83,459.35 557.68,458.90 568.53,458.50 579.38,458.00 590.24,457.60 601.09,457.20 611.94,456.90 622.79,456.60 633.64,456.50 644.50,456.30 655.35,456.20 666.20,456.18 677.05,456.17 687.90,456.15 698.76,456.13 709.61,456.12 720.46,456.10 731.31,456.08 742.16,456.07 753.02,456.05 763.87,456.03 774.72,456.02 785.57,456.00 796.42,455.60 807.28,455.20 818.13,454.50 828.98,453.50 839.83,452.70 850.68,451.60 861.54,450.00 872.39,449.20 883.24,448.80 894.09,448.70 904.94,448.40 915.80,448.20 926.65,447.50 937.50,446.90" fill="none" stroke-width="3" stroke-linejoin="round" stroke-linecap="round"/>
<circle cx="112.75" cy="461.60" r="3.2" stroke="none"/>
<circle cx="123.60" cy="461.54" r="3.2" stroke="none"/>
<circle cx="134.45" cy="461.48" r="3.2" stroke="none"/>
<circle cx="145.31" cy="461.42" r="3.2" stroke="none"/>
<circle cx="156.16" cy="461.36" r="3.2" stroke="none"/>
<circle cx="167.01" cy="461.30" r="3.2" stroke="none"/>
<circle cx="177.86" cy="461.24" r="3.2" stroke="none"/>
<circle cx="188.71" cy="461.18" r="3.2" stroke="none"/>
<circle cx="199.57" cy="461.12" r="3.2" stroke="none"/>
<circle cx="210.42" cy="461.06" r="3.2" stroke="none"/>
<circle cx="221.27" cy="461.00" r="3.2" stroke="none"/>
<circle cx="232.12" cy="460.96" r="3.2" stroke="none"/>
<circle cx="242.97" cy="460.91" r="3.2" stroke="none"/>
<circle cx="253.83" cy="460.87" r="3.2" stroke="none"/>
<circle cx="264.68" cy="460.83" r="3.2" stroke="none"/>
<circle cx="275.53" cy="460.79" r="3.2" stroke="none"/>
<circle cx="286.38" cy="460.74" r="3.2" stroke="none"/>
<circle cx="297.23" cy="460.70" r="3.2" stroke="none"/>
<circle cx="308.09" cy="460.56" r="3.2" stroke="none"/>
<circle cx="318.94" cy="460.42" r="3.2" stroke="none"/>
<circle cx="329.79" cy="460.28" r="3.2" stroke="none"/>
<circle cx="340.64" cy="460.14" r="3.2" stroke="none"/>
<circle cx="351.49" cy="460.00" r="3.2" stroke="none"/>
<circle cx="362.35" cy="460.00" r="3.2" stroke="none"/>
<circle cx="373.20" cy="460.00" r="3.2" stroke="none"/>
<circle cx="384.05" cy="460.00" r="3.2" stroke="none"/>
<circle cx="394.90" cy="460.00" r="3.2" stroke="none"/>
<circle cx="405.75" cy="460.00" r="3.2" stroke="none"/>
<circle cx="416.61" cy="460.00" r="3.2" stroke="none"/>
<circle cx="427.46" cy="460.00" r="3.2" stroke="none"/>
<circle cx="438.31" cy="460.00" r="3.2" stroke="none"/>
<circle cx="449.16" cy="460.00" r="3.2" stroke="none"/>
<circle cx="460.01" cy="460.00" r="3.2" stroke="none"/>
<circle cx="470.87" cy="460.00" r="3.2" stroke="none"/>
<circle cx="481.72" cy="460.00" r="3.2" stroke="none"/>
<circle cx="492.57" cy="460.00" r="3.2" stroke="none"/>
<circle cx="503.42" cy="460.00" r="3.2" stroke="none"/>
<circle cx="514.27" cy="460.00" r="3.2" stroke="none"/>
<circle cx="525.12" cy="460.00" r="3.2" stroke="none"/>
<circle cx="535.98" cy="459.70" r="3.2" stroke="none"/>
<circle cx="546.83" cy="459.35" r="3.2" stroke="none"/>
<circle cx="557.68" cy="458.90" r="3.2" stroke="none"/>
<circle cx="568.53" cy="458.50" r="3.2" stroke="none"/>
<circle cx="579.38" cy="458.00" r="3.2" stroke="none"/>
<circle cx="590.24" cy="457.60" r="3.2" stroke="none"/>
<circle cx="601.09" cy="457.20" r="3.2" stroke="none"/>
<circle cx="611.94" cy="456.90" r="3.2" stroke="none"/>
<circle cx="622.79" cy="456.60" r="3.2" stroke="none"/>
<circle cx="633.64" cy="456.50" r="3.2" stroke="none"/>
<circle cx="644.50" cy="456.30" r="3.2" stroke="none"/>
<circle cx="655.35" cy="456.20" r="3.2" stroke="none"/>
<circle cx="666.20" cy="456.18" r="3.2" stroke="none"/>
<circle cx="677.05" cy="456.17" r="3.2" stroke="none"/>
<circle cx="687.90" cy="456.15" r="3.2" stroke="none"/>
<circle cx="698.76" cy="456.13" r="3.2" stroke="none"/>
<circle cx="709.61" cy="456.12" r="3.2" stroke="none"/>
<circle cx="720.46" cy="456.10" r="3.2" stroke="none"/>
<circle cx="731.31" cy="456.08" r="3.2" stroke="none"/>
<circle cx="742.16" cy="456.07" r="3.2" stroke="none"/>
<circle cx="753.02" cy="456.05" r="3.2" stroke="none"/>
<circle cx="763.87" cy="456.03" r="3.2" stroke="none"/>
<circle cx="774.72" cy="456.02" r="3.2" stroke="none"/>
<circle cx="785.57" cy="456.00" r="3.2" stroke="none"/>
<circle cx="796.42" cy="455.60" r="3.2" stroke="none"/>
<circle cx="807.28" cy="455.20" r="3.2" stroke="none"/>
<circle cx="818.13" cy="454.50" r="3.2" stroke="none"/>
<circle cx="828.98" cy="453.50" r="3.2" stroke="none"/>
<circle cx="839.83" cy="452.70" r="3.2" stroke="none"/>
<circle cx="850.68" cy="451.60" r="3.2" stroke="none"/>
<circle cx="861.54" cy="450.00" r="3.2" stroke="none"/>
<circle cx="872.39" cy="449.20" r="3.2" stroke="none"/>
<circle cx="883.24" cy="448.80" r="3.2" stroke="none"/>
<circle cx="894.09" cy="448.70" r="3.2" stroke="none"/>
<circle cx="904.94" cy="448.40" r="3.2" stroke="none"/>
<circle cx="915.80" cy="448.20" r="3.2" stroke="none"/>
<circle cx="926.65" cy="447.50" r="3.2" stroke="none"/>
<circle cx="937.50" cy="446.90" r="3.2" stroke="none"/>
</g>
<text x="123.6" y="84.1" font-size="27.8" text-anchor="start" fill="#000" stroke="#000" stroke-width="0.45" font-family="'Liberation Sans', sans-serif" textLength="276" lengthAdjust="spacingAndGlyphs">COVID-19 Comparison</text>
<text x="402.9" y="84.1" font-size="27.8" text-anchor="start" fill="#000" stroke="#000" stroke-width="0.45" font-family="'Liberation Sans', sans-serif" textLength="20" lengthAdjust="spacingAndGlyphs">—</text>
<text x="425.6" y="84.1" font-size="27.8" text-anchor="start" fill="#000" stroke="#000" stroke-width="0.45" font-family="'Liberation Sans', sans-serif" textLength="450.5" lengthAdjust="spacingAndGlyphs">Deaths/million 1 JUL 20 to 15 DEC 21</text>
<text x="97.2" y="472.30" font-size="17.3" text-anchor="end" fill="#000" stroke="#000" stroke-width="0.3" font-family="'Liberation Sans', sans-serif" textLength="9.4" lengthAdjust="spacingAndGlyphs">0</text>
<text x="97.2" y="412.60" font-size="17.3" text-anchor="end" fill="#000" stroke="#000" stroke-width="0.3" font-family="'Liberation Sans', sans-serif" textLength="28.2" lengthAdjust="spacingAndGlyphs">350</text>
<text x="97.2" y="352.90" font-size="17.3" text-anchor="end" fill="#000" stroke="#000" stroke-width="0.3" font-family="'Liberation Sans', sans-serif" textLength="28.2" lengthAdjust="spacingAndGlyphs">700</text>
<text x="97.2" y="293.20" font-size="17.3" text-anchor="end" fill="#000" stroke="#000" stroke-width="0.3" font-family="'Liberation Sans', sans-serif" textLength="42.3" lengthAdjust="spacingAndGlyphs">1,050</text>
<text x="97.2" y="233.50" font-size="17.3" text-anchor="end" fill="#000" stroke="#000" stroke-width="0.3" font-family="'Liberation Sans', sans-serif" textLength="42.3" lengthAdjust="spacingAndGlyphs">1,400</text>
<text x="97.2" y="173.80" font-size="17.3" text-anchor="end" fill="#000" stroke="#000" stroke-width="0.3" font-family="'Liberation Sans', sans-serif" textLength="42.3" lengthAdjust="spacingAndGlyphs">1,750</text>
<text x="97.2" y="114.10" font-size="17.3" text-anchor="end" fill="#000" stroke="#000" stroke-width="0.3" font-family="'Liberation Sans', sans-serif" textLength="42.3" lengthAdjust="spacingAndGlyphs">2,100</text>
<text x="112.75" y="493.3" font-size="17.3" text-anchor="middle" fill="#000" stroke="#000" stroke-width="0.3" font-family="'Liberation Sans', sans-serif" textLength="53.6" lengthAdjust="spacingAndGlyphs">01 July</text>
<text x="199.57" y="493.3" font-size="17.3" text-anchor="middle" fill="#000" stroke="#000" stroke-width="0.3" font-family="'Liberation Sans', sans-serif" textLength="52.7" lengthAdjust="spacingAndGlyphs">26 Aug</text>
<text x="286.38" y="493.3" font-size="17.3" text-anchor="middle" fill="#000" stroke="#000" stroke-width="0.3" font-family="'Liberation Sans', sans-serif" textLength="49.8" lengthAdjust="spacingAndGlyphs">21 Oct</text>
<text x="373.20" y="493.3" font-size="17.3" text-anchor="middle" fill="#000" stroke="#000" stroke-width="0.3" font-family="'Liberation Sans', sans-serif" textLength="53.6" lengthAdjust="spacingAndGlyphs">16 Dec</text>
<text x="460.01" y="493.3" font-size="17.3" text-anchor="middle" fill="#000" stroke="#000" stroke-width="0.3" font-family="'Liberation Sans', sans-serif" textLength="52.6" lengthAdjust="spacingAndGlyphs">10 Feb</text>
<text x="546.83" y="493.3" font-size="17.3" text-anchor="middle" fill="#000" stroke="#000" stroke-width="0.3" font-family="'Liberation Sans', sans-serif" textLength="50.7" lengthAdjust="spacingAndGlyphs">07-Apr</text>
<text x="633.64" y="493.3" font-size="17.3" text-anchor="middle" fill="#000" stroke="#000" stroke-width="0.3" font-family="'Liberation Sans', sans-serif" textLength="51.7" lengthAdjust="spacingAndGlyphs">02-Jun</text>
<text x="720.46" y="493.3" font-size="17.3" text-anchor="middle" fill="#000" stroke="#000" stroke-width="0.3" font-family="'Liberation Sans', sans-serif" textLength="46.1" lengthAdjust="spacingAndGlyphs">28-Jul</text>
<text x="807.28" y="493.3" font-size="17.3" text-anchor="middle" fill="#000" stroke="#000" stroke-width="0.3" font-family="'Liberation Sans', sans-serif" textLength="54.5" lengthAdjust="spacingAndGlyphs">22-Sep</text>
<text x="894.09" y="493.3" font-size="17.3" text-anchor="middle" fill="#000" stroke="#000" stroke-width="0.3" font-family="'Liberation Sans', sans-serif" textLength="54.5" lengthAdjust="spacingAndGlyphs">17-Nov</text>
<text x="46.2" y="543" font-size="21.4" text-anchor="start" fill="#000" stroke="#000" stroke-width="0.38" font-family="'Liberation Sans', sans-serif" textLength="143.2" lengthAdjust="spacingAndGlyphs">G7 less Canada</text>
<rect x="35.0" y="532.9" width="10.1" height="6.1" fill="#00A2FF"/>
<ellipse cx="39.9" cy="533.0" rx="1.4" ry="0.9" fill="#00A2FF"/>
<text x="236.2" y="543" font-size="21.4" text-anchor="start" fill="#000" stroke="#000" stroke-width="0.38" font-family="'Liberation Sans', sans-serif" textLength="241.4" lengthAdjust="spacingAndGlyphs">Top 5 immigration sources</text>
<rect x="225.7" y="532.9" width="10.1" height="6.1" fill="#61D836"/>
<ellipse cx="230.6" cy="533.0" rx="1.4" ry="0.9" fill="#61D836"/>
<text x="519.3" y="543" font-size="21.4" text-anchor="start" fill="#000" stroke="#000" stroke-width="0.38" font-family="'Liberation Sans', sans-serif" textLength="31.2" lengthAdjust="spacingAndGlyphs">ON</text>
<line x1="508.4" x2="518.6" y1="535.75" y2="535.75" stroke="#F8BA00" stroke-width="3.5"/>
<circle cx="513.3" cy="535.5" r="3.45" fill="#F8BA00"/>
<text x="590" y="543" font-size="21.4" text-anchor="start" fill="#000" stroke="#000" stroke-width="0.38" font-family="'Liberation Sans', sans-serif" textLength="30.0" lengthAdjust="spacingAndGlyphs">QC</text>
<line x1="579.0" x2="589.2" y1="535.75" y2="535.75" stroke="#FF2600" stroke-width="3.5"/>
<circle cx="583.9" cy="535.5" r="3.45" fill="#FF2600"/>
<text x="660.8" y="543" font-size="21.4" text-anchor="start" fill="#000" stroke="#000" stroke-width="0.38" font-family="'Liberation Sans', sans-serif" textLength="29.2" lengthAdjust="spacingAndGlyphs">BC</text>
<line x1="649.9" x2="660.1" y1="535.75" y2="535.75" stroke="#C1478A" stroke-width="3.5"/>
<circle cx="654.8" cy="535.5" r="3.45" fill="#C1478A"/>
<text x="729.9" y="543" font-size="21.4" text-anchor="start" fill="#000" stroke="#000" stroke-width="0.38" font-family="'Liberation Sans', sans-serif" textLength="27.4" lengthAdjust="spacingAndGlyphs">AB</text>
<line x1="719.4" x2="729.6" y1="535.75" y2="535.75" stroke="#5E5E5E" stroke-width="3.5"/>
<circle cx="724.3" cy="535.5" r="3.45" fill="#5E5E5E"/>
<text x="797.6" y="543" font-size="21.4" text-anchor="start" fill="#000" stroke="#000" stroke-width="0.38" font-family="'Liberation Sans', sans-serif" textLength="70.6" lengthAdjust="spacingAndGlyphs">MB, SK</text>
<line x1="787.1" x2="797.3000000000001" y1="535.75" y2="535.75" stroke="#1EAAFF" stroke-width="3.5"/>
<circle cx="792.0" cy="535.5" r="3.45" fill="#1EAAFF"/>
<text x="907.8" y="543" font-size="21.4" text-anchor="start" fill="#000" stroke="#000" stroke-width="0.38" font-family="'Liberation Sans', sans-serif" textLength="68.2" lengthAdjust="spacingAndGlyphs">Atlantic</text>
<line x1="897.0" x2="907.2" y1="535.75" y2="535.75" stroke="#6EDC50" stroke-width="3.5"/>
<circle cx="901.9" cy="535.5" r="3.45" fill="#6EDC50"/>
</svg>
</body>
</html>
